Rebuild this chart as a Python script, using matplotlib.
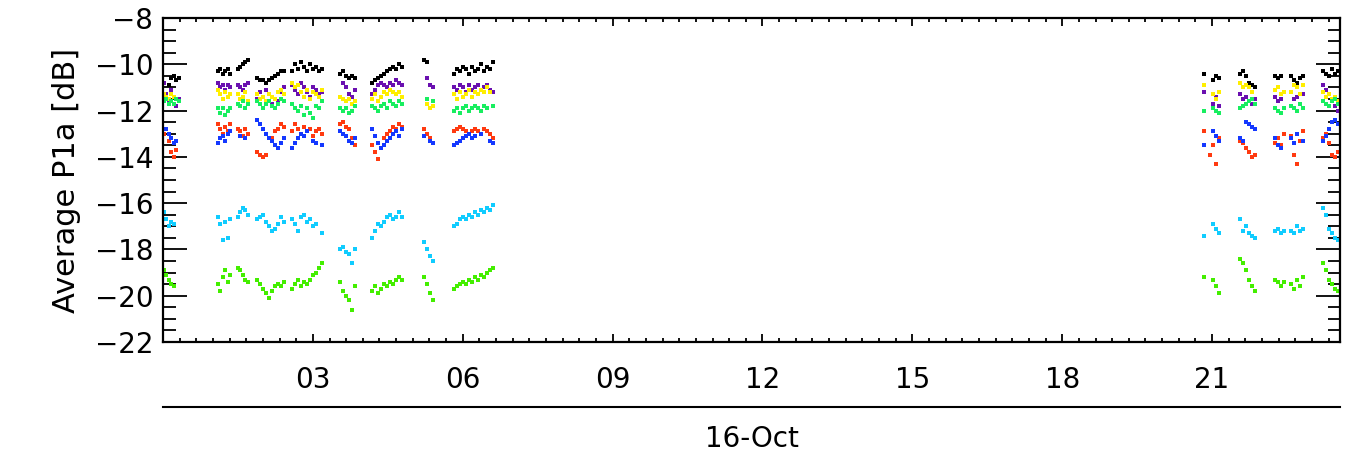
import matplotlib
matplotlib.use("Agg")
import matplotlib.pyplot as plt
from matplotlib.ticker import MultipleLocator, FixedLocator

nan = float("nan")

# hour of day (16-Oct), one entry per sample
hours = [
    0.02, 0.07, 0.12, 0.17, 0.22, 0.27, 0.32,
    1.10, 1.15, 1.20, 1.25, 1.30, 1.35,
    1.50, 1.55, 1.60, 1.65, 1.70,
    1.88, 1.94, 2.00, 2.06, 2.12, 2.18, 2.24, 2.30, 2.36, 2.42,
    2.58, 2.64, 2.70, 2.76, 2.82, 2.88, 2.94, 3.00, 3.06, 3.12, 3.18,
    3.54, 3.60, 3.66, 3.72, 3.78, 3.84,
    4.18, 4.24, 4.30, 4.36, 4.42, 4.48, 4.54, 4.60, 4.66, 4.72, 4.78,
    5.22, 5.28, 5.34, 5.40,
    5.82, 5.88, 5.94, 6.00, 6.06, 6.12, 6.18, 6.24, 6.30, 6.36, 6.42, 6.48, 6.54, 6.60,
    20.84, 20.90, 20.96, 21.02, 21.08, 21.14,
    21.56, 21.62, 21.68, 21.74, 21.80, 21.86,
    22.26, 22.32, 22.38, 22.44,
    22.58, 22.64, 22.70, 22.76, 22.82,
    23.22, 23.28, 23.34, 23.40, 23.46, 23.52,
]

# average P1a per channel [dB]
p1a_black = [
    nan, nan, -10.9, -10.6, -10.5, -10.7, -10.6,
    -10.3, -10.2, -10.4, -10.3, -10.2, -10.4,
    -10.2, -10.1, -10.0, -9.9, -9.8,
    -10.6, -10.7, -10.7, -10.8, -10.7, -10.6, -10.5, -10.4, -10.3, -10.3,
    -10.3, -10.0, -10.2, -9.9, -10.1, -10.3, -10.0, -10.2, -10.1, -10.3, -10.2,
    -10.4, -10.3, -10.5, -10.6, -10.5, -10.6,
    -10.8, -10.7, -10.6, -10.5, -10.4, -10.3, -10.2, -10.1, -10.2, -10.0, -10.1,
    -9.8, -9.9, nan, nan,
    -10.4, -10.2, -10.3, -10.1, -10.2, -10.4, -10.1, -10.3, -10.2, -10.0, -10.3, -10.1, -10.2, -9.9,
    -10.4, nan, nan, -10.7, -10.5, -10.6,
    -10.4, -10.3, -10.5, -10.8, -10.9, -11.0,
    -10.5, -10.6, -10.5, nan,
    -10.5, -10.7, -10.8, -10.6, -10.5,
    -10.3, -10.4, -10.5, -10.2, -10.4, -10.3,
]
p1a_purple = [
    -10.8, -11.3, -11.6, -11.1, -11.4, -11.8, -11.5,
    -10.8, -11.0, -10.9, -11.1, -10.9, -11.0,
    -10.9, -11.0, -11.1, -10.9, -10.8,
    -11.5, -11.2, -11.4, -11.1, -11.3, -11.7, -11.9, -11.6, -11.2, -11.0,
    -10.9, -11.1, -11.3, -10.8, -11.0, -11.2, -11.4, -11.0, -11.1, -11.3, -11.2,
    nan, -10.8, -11.0, -11.3, -11.4, -11.1,
    -11.3, -11.1, -10.9, -10.8, -10.9, -11.0, -10.8, -10.9, -10.7, -10.8, -10.9,
    nan, -10.6, -10.9, -11.0,
    -11.0, -11.1, -10.9, -11.0, -11.2, -10.9, -11.1, -11.0, -10.9, -11.1, -11.0, -10.9, -11.1, -11.2,
    -11.2, nan, nan, -11.7, -11.4, -11.8,
    -11.3, -11.5, -11.4, -11.6, -11.7, -11.5,
    -11.4, -11.6, -11.5, nan,
    nan, -11.5, -11.4, nan, -11.3,
    -10.9, -11.1, -11.3, -11.5, -11.8, -12.0,
]
p1a_yellow = [
    -11.3, -11.4, -11.5, -11.3, -11.4, nan, nan,
    -11.1, -11.3, -11.5, -11.2, -11.4, -11.3,
    -11.3, -11.5, -11.4, -11.2, -11.6,
    -11.3, -11.5, -11.4, -11.6, -11.3, -11.4, -11.5, -11.2, -11.1, -11.3,
    -10.8, -11.0, -10.9, -11.2, -11.4, -11.1, -11.5, -11.2, -11.3, -11.4, -11.1,
    -11.4, -11.5, -11.6, -11.5, -11.7, -11.6,
    -11.5, -11.3, -11.6, -11.4, -11.2, -11.3, -11.1, -11.2, -11.3, -11.2, -11.4,
    nan, -11.7, -11.9, -11.8,
    -11.3, -11.5, -11.2, -11.4, -11.3, -11.1, -11.4, -11.2, -11.3, -11.1, -11.2, -11.0, -11.2, nan,
    -10.9, nan, nan, -11.3, -11.5, -11.2,
    -10.8, -11.0, -10.9, -11.0, -11.2, nan,
    -11.1, -11.0, -11.3, -11.2,
    -11.2, -10.9, -11.0, -11.3, -10.9,
    -11.2, -11.4, -11.3, -11.5, -11.4, -11.6,
]
p1a_green = [
    -11.6, -11.5, -11.7, -11.6, -11.7, -11.5, -11.6,
    -11.9, -12.1, -11.9, -12.2, -12.0, -11.9,
    -11.7, -11.8, -11.6, -11.9, -11.7,
    -11.6, -11.7, -11.9, -11.7, -11.6, -11.8, -11.9, -11.7, -11.5, -11.6,
    -11.7, -11.9, -12.0, -11.8, -12.2, -11.9, -12.1, -12.3, -11.8, -11.9, -11.6,
    -11.9, -12.0, -11.9, -12.1, -12.0, -11.8,
    -11.8, -11.9, -12.0, -11.8, -11.7, -11.9, -11.6, -11.7, -11.8, -11.6, -11.7,
    nan, -11.5, nan, -11.6,
    -12.0, -11.9, -12.1, -11.9, -11.8, -12.0, -11.9, -11.8, -11.9, -12.0, -11.8, -11.9, nan, -11.8,
    -12.0, nan, nan, -11.9, -12.0, -12.1,
    -11.9, -11.8, -11.7, -11.6, -11.5, -11.7,
    -11.9, -12.0, -12.1, -11.9,
    -11.8, -11.9, -12.0, -11.7, -11.9,
    -11.6, -11.7, -11.8, -11.6, -11.5, -11.7,
]
p1a_red = [
    -13.0, nan, -13.3, -13.8, -14.0, -13.7, nan,
    -12.6, -12.8, -13.0, -12.7, -12.9, -12.6,
    -12.8, -12.9, -13.1, -12.8, -13.0,
    -13.8, -13.9, -14.0, -13.9, nan, -13.2, -12.9, -12.8, -12.6, -12.7,
    -12.9, -12.6, -12.8, -13.0, -12.7, -12.9, -12.8, -13.1, -12.9, -12.8, -13.0,
    -12.6, -12.5, -12.7, -12.8, -13.2, -13.5,
    -13.5, -13.8, -14.1, -13.6, -13.2, -13.0, -12.9, -12.7, -12.8, -12.6, -12.7,
    -12.8, -13.0, -13.2, nan,
    -12.9, -12.8, -12.7, -12.8, -12.9, -13.0, -12.9, -12.8, -12.9, -13.0, -12.8, -12.9, -13.0, -13.2,
    -12.9, nan, -13.9, -13.5, -14.3, -13.2,
    -13.3, -13.4, -13.6, -13.8, -14.0, -13.9,
    -13.4, -13.2, -13.5, -13.0,
    -13.1, -13.9, -14.3, -13.3, -12.9,
    -13.2, -13.0, -13.4, -13.9, -14.0, -13.8,
]
p1a_blue = [
    nan, -12.8, -13.0, -13.2, -13.4, -13.3, nan,
    -13.4, -13.2, -13.1, -13.3, -13.0, -12.9,
    nan, -13.1, nan, -13.2, nan,
    -12.4, -12.6, -12.8, -13.0, -13.2, -13.3, -13.5, -13.6, -13.4, -13.2,
    -13.6, -13.4, -13.2, -13.0, -13.1, -12.9, nan, -13.3, -13.4, nan, -13.5,
    -12.9, -13.0, -13.1, -13.3, -13.4, -13.2,
    -12.8, -13.1, -13.4, -13.6, -13.5, -13.3, -13.2, -13.0, -12.9, -13.1, -12.8,
    -13.1, nan, -13.3, -13.4,
    -13.5, -13.4, -13.3, -13.2, -13.1, -13.0, -13.2, -13.1, nan, -13.0, nan, nan, -13.3, -13.4,
    -13.5, nan, nan, -12.9, -13.1, -13.3,
    -13.2, -13.3, -12.5, -12.6, -12.7, -12.8,
    -13.2, -13.5, -13.6, nan,
    -13.2, -13.4, -13.0, nan, -13.3,
    -13.3, -13.1, -12.8, -12.5, -12.4, -12.6,
]
p1a_cyan = [
    -16.4, -16.7, -17.0, -16.8, -16.9, nan, nan,
    -16.6, -16.9, -17.6, -16.8, -17.5, -16.7,
    -16.6, -16.4, -16.2, -16.3, -16.5,
    -16.7, -16.6, -16.5, -16.8, -17.0, -17.2, -17.1, -16.9, -16.6, -16.8,
    -16.7, -16.9, -17.2, -16.6, -16.5, -16.8, -16.7, -17.0, -16.9, nan, -17.3,
    -18.0, -17.9, -18.1, -18.2, -18.6, -18.0,
    -17.5, -17.2, -16.9, -17.0, -16.8, -16.6, -16.5, -16.7, -16.6, -16.4, -16.6,
    -17.7, -18.0, -18.3, -18.5,
    -17.0, -16.9, -16.7, -16.6, -16.7, -16.5, -16.6, -16.4, -16.5, -16.3, -16.4, -16.2, -16.3, -16.1,
    -17.4, nan, nan, -16.9, -17.1, -17.3,
    -16.7, -17.2, -17.0, -17.3, -17.4, -17.5,
    -17.2, -17.1, -17.3, -17.2,
    -17.2, -17.3, -17.0, -17.2, -17.1,
    -16.2, -16.5, -17.1, -17.3, -17.5, -17.6,
]
p1a_lime = [
    -18.9, -19.1, -19.3, -19.5, -19.6, nan, nan,
    -19.5, -19.8, -19.2, -18.9, -19.4, -19.1,
    -18.8, -18.9, -19.1, -19.3, -19.4,
    -19.3, -19.5, -19.7, -19.9, -20.1, -19.8, -19.6, -19.5, -19.6, -19.4,
    -19.7, -19.5, -19.3, -19.6, -19.4, -19.5, -19.3, -19.1, -19.0, -18.8, -18.6,
    -19.4, -19.8, -20.0, -20.2, -20.6, -19.6,
    -19.8, -19.6, -19.9, -19.7, -19.5, -19.6, -19.4, -19.5, -19.3, -19.2, -19.3,
    -19.2, -19.5, -19.9, -20.2,
    -19.7, -19.6, -19.5, -19.4, -19.5, -19.3, -19.4, -19.2, -19.3, -19.1, -19.2, -19.0, -18.9, -18.8,
    -19.2, nan, nan, -19.3, -19.6, -19.9,
    -18.4, -18.6, -18.9, -19.3, -19.6, -19.8,
    -19.3, -19.4, -19.6, -19.4,
    -19.5, -19.7, -19.3, -19.6, -19.2,
    -18.6, -18.9, -19.3, -19.5, -19.7, -19.8,
]

series = [
    (p1a_black, "black"),
    (p1a_purple, "#6a10b0"),
    (p1a_yellow, "#ffee00"),
    (p1a_green, "#18ee60"),
    (p1a_red, "#ff3a10"),
    (p1a_blue, "#1438ff"),
    (p1a_cyan, "#10ccff"),
    (p1a_lime, "#44ee00"),
]

hour_ticks = [3, 6, 9, 12, 15, 18, 21]
hour_labels = ["03", "06", "09", "12", "15", "18", "21"]

plt.rcParams['font.family'] = 'DejaVu Sans'
plt.rcParams['font.size'] = 20

fig = plt.figure(figsize=(13.51, 4.73), dpi=100)
ax = fig.add_axes([163 / 1351, 131 / 473, 1177 / 1351, 324 / 473])

for vals, col in series:
    ax.plot(hours, vals, 's', ms=2.4, mew=0, color=col)

ax.set_xlim(0, 23.56)
ax.set_ylim(-22, -8)
ax.xaxis.set_major_locator(FixedLocator(hour_ticks))
ax.set_xticklabels(hour_labels)
ax.xaxis.set_minor_locator(MultipleLocator(1 / 3))
ax.yaxis.set_major_locator(MultipleLocator(2))
ax.yaxis.set_minor_locator(MultipleLocator(0.5))

ax.tick_params(which='both', direction='in', top=True, right=True, width=1.3)
ax.tick_params(axis='x', which='major', length=6, pad=17)
ax.tick_params(axis='x', which='minor', length=3)
ax.tick_params(axis='y', which='major', length=17, pad=7)
ax.tick_params(axis='y', which='minor', length=9)
for s in ax.spines.values():
    s.set_linewidth(1.6)

ax.set_ylabel("Average P1a [dB]", fontsize=22, labelpad=10)

# date line and label under the hour axis
ax.plot([0, 1], [-0.2, -0.2], transform=ax.transAxes, clip_on=False,
        color='black', lw=1.5)
ax.text(0.5, -0.3, "16-Oct", transform=ax.transAxes, ha='center',
        va='center', fontsize=20)

plt.savefig("out.png", dpi=100)
